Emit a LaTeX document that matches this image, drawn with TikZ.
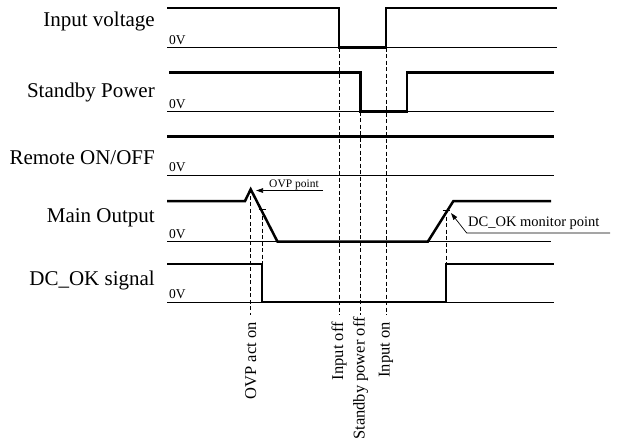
\documentclass[tikz,border=0pt]{standalone}
\usepackage{fontspec}
\setmainfont{Liberation Serif}
\usetikzlibrary{arrows.meta, positioning}

\begin{document}
\begin{tikzpicture}[x=1pt, y=-1pt,
  sig/.style={line width=2.5pt, line join=miter},
  base/.style={line width=0.7pt},
  guide/.style={dash pattern=on 4pt off 2.5pt, line width=0.7pt},
  signame/.style={font=\fontsize{21}{21}\selectfont, anchor=base east, inner sep=0pt},
  zero/.style={font=\fontsize{13.5}{13.5}\selectfont, anchor=base west, inner sep=0pt},
  event/.style={font=\fontsize{16.5}{16.5}\selectfont, rotate=90, anchor=east, inner sep=0pt},
  note/.style={anchor=base west, inner sep=0pt},
  arr/.style={-{Triangle[length=7pt, width=4.5pt]}, line width=0.7pt},
]
\useasboundingbox (0,0) rectangle (617,445);

%% Signal names
\foreach \id/\txt/\y in {in/{Input voltage}/26.5, sb/{Standby Power}/97.7,
    rm/{Remote ON/OFF}/164, mo/{Main Output}/222, ok/{DC\_OK signal}/285} {
  \node[signame] (name\id) at (155, \y) {\txt};
}

%% 0V reference lines
\foreach \id/\y/\xe in {in/47.7/557, sb/111.7/554, rm/175/554, mo/241.7/551, ok/302/554} {
  \draw[base] (167, \y) -- (\xe, \y);
  \node[zero] (zero\id) at (169, \y-3.5) {0V};
}

%% Waveforms
\draw[sig] (167,8) -- (339,8) -- (339,47.7) coordinate (inoff)
  -- (386,47.7) coordinate (inon) -- (386,8) -- (557,8);
\draw[sig] (169,72.3) -- (360.7,72.3) -- (360.7,111.7) coordinate (sboff)
  -- (407,111.7) -- (407,72.3) -- (554,72.3);
\draw[sig] (167,136.3) -- (554,136.3);
\draw[sig] (167,201) -- (245,201) -- (250.7,189.3) coordinate (ovp)
  -- (277.5,241.7) -- (427.8,241.7) -- (453.4,201) -- (551,201);
\draw[sig] (167,264) -- (262,264) coordinate (okfall) -- (262,302)
  -- (446,302) -- (446,264) coordinate (okrise) -- (554,264);

%% Crossing points on Main Output
\coordinate (ptoff) at (262,209);
\coordinate (ptmon) at (446,210);
\draw[base] (ptoff) +(-3.5,0) -- +(3.5,0);
\draw[base] (ptmon) +(-3.5,0) -- +(3.5,0);
\draw[guide] (ptoff) -- (okfall);
\draw[guide] (ptmon) -- (okrise);

%% Events
\node[event] (evovp) at (250.7,322) {OVP act on};
\node[event] (evinoff) at (339,322) {Input off};
\node[event] (evsboff) at (360.7,317) {Standby power off};
\node[event] (evinon) at (386,322) {Input on};
\draw[guide, shorten >=7pt] (ovp) -- (evovp.east);
\draw[guide, shorten >=7pt] (inoff) -- (evinoff.east);
\draw[guide, shorten >=2pt] (sboff) -- (evsboff.east);
\draw[guide, shorten >=7pt] (inon) -- (evinon.east);

%% Notes
\node[note, font=\fontsize{11.5}{11.5}\selectfont] (ovpnote) at (269,187) {OVP point};
\coordinate (ovpend) at (323,190.5);
\coordinate (ovptip) at (256,190.5);
\draw[arr] (ovpend) -- (ovptip);

\node[note, font=\fontsize{14.5}{14.5}\selectfont] (monnote) at (468,226.7) {DC\_OK monitor point};
\coordinate (monend) at (610,233);
\coordinate (monbend) at (466.7,233);
\coordinate (montip) at (451,213);
\draw[arr] (monend) -- (monbend) -- (montip);

\end{tikzpicture}
\end{document}
